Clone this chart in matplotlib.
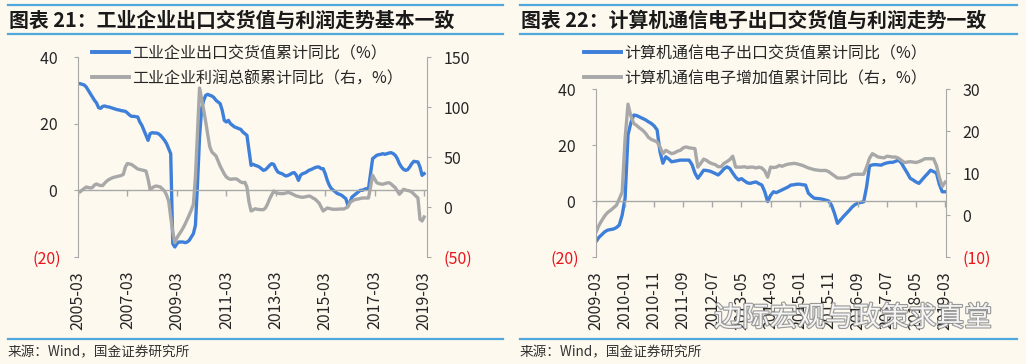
import matplotlib
matplotlib.use('Agg')
import matplotlib.pyplot as plt
import matplotlib.patheffects as pe
from matplotlib.lines import Line2D
import pandas as pd

plt.rcParams['font.family'] = ['Noto Sans CJK SC', 'DejaVu Sans']

BG = '#fdf9ef'
BLUE = '#3d7fd9'
GRAY = '#a8a8a8'
RED = '#e8141c'
RULE = '#4fa9dc'
TXT = '#262626'

# chart 21: industrial enterprises, monthly from 2005-03
ind_start = '2005-03'
ind_export = [32, 32, 31.8, 31.6, 31, 30, 29, 28, 27, 26.2,
              24.8, 24.6, 25.2, 25.3, 25.1, 25, 24.8, 24.6, 24.4, 24.2, 24.1, 23.9,
              23.8, 23.7, 23.2, 22.6, 22.2, 22.2, 22.1, 22.0, 20.5, 19.5, 18.0, 16.5,
              15.0, 17.0, 17.3, 17.2, 17.2, 17.0, 16.5, 15.8, 15.0, 14.0, 12.5, 11.0,
              -16, -17, -16, -15.5, -15.5, -15.5, -15.7, -15.5, -15, -14, -13, -10.5,
              2, 16, 24.5, 27, 28.5, 28.8, 28.5, 28.3, 27.8, 27, 26.5, 26,
              24, 21, 20.5, 21, 20, 19.5, 19, 18.8, 18.5, 18.3, 17.5, 17,
              16.5, 12, 7.5, 7.8, 7.5, 7.3, 7, 6.5, 6, 6.2, 6.8, 7.5,
              8, 7.8, 6.5, 5.5, 5.2, 5, 4.6, 4.3, 4.5, 4.8, 5.2, 5.3,
              4.5, 3, 4.5, 5, 5.2, 5.5, 6, 6.2, 6.5, 6.8, 7, 7,
              6.5, 6.5, 5, 3, 1.5, 0.5, 0, -0.5, -1, -1.2, -1.5, -2,
              -2.5, -4.5, -3.5, -2, -1.5, -1, -0.5, 0, 0, 0.3, 0.5, 0.5,
              5, 9.5, 10, 10.5, 10.7, 10.8, 11, 10.8, 11, 11.2, 11.3, 11,
              10.5, 9.5, 8, 7, 6.3, 6, 6.2, 7, 8, 8.7, 8.6, 8.5,
              7, 4.5, 5]
ind_profit = [16, 15, 17, 18.5, 20, 19.5, 19, 19.5, 22, 23,
              22, 21.5, 21.5, 24, 26, 27.5, 28.5, 29.5, 30, 30.5, 31, 31.5,
              32.7, 40, 43.5, 43, 42.5, 41, 39.5, 38, 37.5, 37, 36.5, 36,
              28, 17.5, 19, 20.5, 21, 20.5, 20, 18, 16, 12, 6, -10,
              -25, -35.7, -31, -27.5, -24.5, -21, -17, -12.5, -8, -3, 2.7, 30,
              75, 119, 108, 97, 85, 72, 60, 55, 53, 51, 46, 41,
              37, 33, 30, 28.5, 27.7, 28, 28.2, 28, 26.5, 25, 24.3, 24.7,
              20, 5, -4, -3, -1.7, -2.3, -2.5, -2.7, -2.7, -1, 3, 8,
              12, 16, 14.5, 13.7, 13.5, 13.3, 13.5, 14, 14.7, 14, 13, 12,
              11, 10.5, 10, 9.7, 10, 10.5, 11, 10.5, 9, 8, 6, 4,
              0, -4, -2.5, -1, -1.5, -2, -2.3, -2.3, -2.2, -2, -2, -2,
              -1, 0, 4.3, 6, 7, 7.7, 8, 8.5, 9, 9, 9, 9,
              20, 31.7, 28, 24.3, 23.5, 23, 22.7, 23.5, 24, 24.3, 23, 21,
              19.3, 16, 12.7, 15, 17.7, 17, 16.5, 16, 15, 13, 11, 9,
              -12.3, -14, -10]

# chart 22: computer / communication / electronics, monthly from 2009-03
ict_start = '2009-03'
ict_export = [-14.5, -13, -12, -11, -10.4, -10.2, -10, -9.5, -8.6, -5,
              1, 23.6, 28, 30.7, 30.5, 30, 29.5, 29, 28.3, 27.7, 26.8, 25.4,
              17.6, 13.5, 15.8, 15, 14, 14.2, 14.4, 14.6, 14.6, 14.6, 14.6, 13.0,
              10, 8.1, 9.5, 11, 10.9, 10.7, 10.3, 9.8, 9.3, 10.3, 11.5, 12.2,
              11.6, 10, 8.5, 7.5, 8, 7.2, 6.5, 6.3, 6.6, 6.8, 6.2, 5.7,
              3.3, -0.2, 2, 3.3, 3, 3.5, 4, 4.5, 5, 5.7, 5.8, 6,
              6, 5.8, 5.7, 2.8, 1.8, 1, 0.9, 0.8, 0.6, 0.3, 0, -1.6,
              -4.5, -8, -6.8, -5.6, -4.5, -3.4, -2.2, -1.3, -0.8, -0.5, -0.3, 5,
              12.5, 12.9, 13, 12.9, 12.8, 13.3, 13.6, 13.8, 13.8, 14.2, 14.6, 13.5,
              11.7, 10, 8.1, 7.5, 6.8, 6.3, 7.5, 8.7, 9.8, 11, 10.5, 10,
              6, 3.3, 3.3]
ict_va = [-4.1, -2.5, -1.3, -0.2, 0.6, 1.1, 1.7, 2.3, 3.8, 5.5,
          18.2, 26.4, 23.5, 21.8, 21.3, 20.7, 20.2, 19.5, 18.5, 18, 17.7, 17.4,
          16.2, 14.6, 15.4, 15, 14.6, 14.8, 15.2, 15.4, 16, 16.2, 16, 15.9,
          15.8, 11.4, 12.3, 13.3, 13, 12.5, 12.2, 12, 11.5, 11.5, 12.3, 12.7,
          13.2, 14, 11.4, 11.4, 11.4, 11.5, 11.3, 11.4, 11.4, 11.2, 11.4, 11.2,
          10.5, 9, 11.4, 11.3, 11.4, 11.8, 11.6, 11.9, 12.1, 12.2, 12.3, 12.2,
          12, 11.8, 11.5, 11.2, 11, 10.8, 10.7, 10.6, 10.6, 10.6, 10.3, 9.8,
          9.3, 8.8, 8.8, 8.8, 8.9, 9.2, 9.6, 9.7, 9.7, 9.7, 9.7, 11.4,
          13.5, 14.6, 14.2, 13.8, 13.7, 13.6, 14, 13.9, 13.8, 13.8, 13.5, 13,
          12.5, 12.6, 12.7, 12.6, 12.5, 12.7, 13, 13.4, 13.4, 13.4, 13.4, 11.8,
          9, 6.8, 7.8]

W, H = 1026, 364
fig = plt.figure(figsize=(W / 100, H / 100), dpi=100, facecolor=BG)


def fx(px):
    return px / W


def fy(py):
    return 1 - py / H


def ylab(v):
    return f'({abs(v)})' if v < 0 else f'{v} '


def panel(box, start, left_vals, right_vals, step, lticks, rticks, xmax, names, legx):
    ax = fig.add_axes([fx(box[0]), fy(box[3]), fx(box[2] - box[0]), (box[3] - box[1]) / H])
    ax.set_facecolor('none')
    n = len(left_vals)
    x = list(range(n))
    ax.plot(x, left_vals, color=BLUE, lw=2.4, solid_joinstyle='round')
    ax.set_ylim(lticks[-1], lticks[0])
    ax.set_xlim(0, xmax)
    ax.axhline(0, color=GRAY, lw=1)
    xt = list(range(0, n, step))
    ax.plot(xt, [0] * len(xt), ls='none', marker=3, ms=4, color=GRAY, mew=1)
    dates = pd.date_range(start, periods=n, freq='MS').strftime('%Y-%m')
    ax.set_xticks(xt)
    ax.set_xticklabels([dates[i] for i in xt], rotation=90, fontsize=11.5, color=TXT)
    ax.tick_params(axis='x', length=0, pad=10)
    ax.set_yticks(lticks)
    ax.set_yticklabels([ylab(v) for v in lticks], fontsize=11.5)
    ax.tick_params(axis='y', length=3, color=GRAY, pad=9)
    for t, v in zip(ax.get_yticklabels(), lticks):
        t.set_color(RED if v < 0 else TXT)
    for s in ['top', 'right', 'bottom']:
        ax.spines[s].set_visible(False)
    ax.spines['left'].set_color(GRAY)

    ax2 = ax.twinx()
    ax2.plot(x, right_vals, color=GRAY, lw=2.4, solid_joinstyle='round')
    ax2.set_ylim(rticks[-1], rticks[0])
    ax2.set_yticks(rticks)
    ax2.set_yticklabels([ylab(v).strip() for v in rticks], fontsize=11.5)
    ax2.tick_params(axis='y', length=3, color=GRAY, pad=9)
    for t, v in zip(ax2.get_yticklabels(), rticks):
        t.set_color(RED if v < 0 else TXT)
    for s in ['top', 'left', 'bottom']:
        ax2.spines[s].set_visible(False)
    ax2.spines['right'].set_color(GRAY)

    handles = [Line2D([], [], color=BLUE, lw=2.8), Line2D([], [], color=GRAY, lw=2.8)]
    fig.legend(handles, names, loc='upper left', bbox_to_anchor=(fx(legx), fy(45)),
               frameon=False, fontsize=11.5, handlelength=2.3, handletextpad=0.2,
               borderpad=0, borderaxespad=0, labelspacing=0.5, labelcolor=TXT)


def header(x0, x1, title):
    for py in (5, 34, 339):
        fig.add_artist(Line2D([fx(x0), fx(x1)], [fy(py), fy(py)], color=RULE, lw=1.6))
    fig.text(fx(x0 + 1), fy(20), title, fontsize=14.3, fontweight='bold', color='#1a1a1a', va='center')
    fig.text(fx(x0), fy(352), '来源：Wind，国金证券研究所', fontsize=9.8, color='#333333', va='center')


panel((78, 57, 427, 257), ind_start, ind_export, ind_profit, 24,
      [40, 20, 0, -20], [150, 100, 50, 0, -50], 169.4,
      ['工业企业出口交货值累计同比（%）', '工业企业利润总额累计同比（右，%）'], 92)
panel((596, 89, 946, 257), ict_start, ict_export, ict_va, 10,
      [40, 20, 0, -20], [30, 20, 10, 0, -10], 120.3,
      ['计算机通信电子出口交货值累计同比（%）', '计算机通信电子增加值累计同比（右，%）'], 584)

header(8, 503, '图表 21：工业企业出口交货值与利润走势基本一致')
header(520, 1017, '图表 22：计算机通信电子出口交货值与利润走势一致')

# watermark overlay, as in the source image
fig.text(fx(853), fy(318), '边际宏观与政策求真堂', fontsize=20, color='white', ha='center', va='center',
         alpha=0.9, path_effects=[pe.withStroke(linewidth=1.6, foreground='#8c8c8c')])

fig.savefig('out.png', dpi=100, facecolor=BG)
